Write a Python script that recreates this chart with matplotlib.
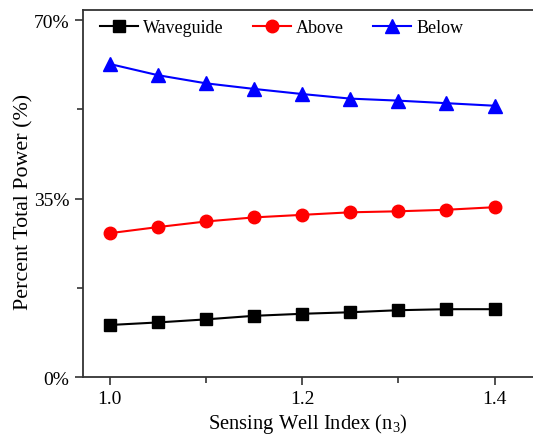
import matplotlib

matplotlib.use("Agg")
import matplotlib.pyplot as plt
from matplotlib.ticker import MultipleLocator, FuncFormatter

# sensing well index n3
index = [1.0, 1.05, 1.1, 1.15, 1.2, 1.25, 1.3, 1.35, 1.4]
# percent of total power in each region
waveguide = [10.2, 10.7, 11.3, 12.0, 12.4, 12.7, 13.1, 13.3, 13.3]
above = [28.2, 29.4, 30.5, 31.3, 31.8, 32.3, 32.5, 32.8, 33.3]
below = [61.4, 59.2, 57.6, 56.5, 55.5, 54.6, 54.2, 53.7, 53.2]

plt.rcParams["font.family"] = ["Liberation Serif", "DejaVu Serif"]
plt.rcParams["mathtext.fontset"] = "custom"
plt.rcParams["mathtext.rm"] = "Liberation Serif"

fig = plt.figure(figsize=(5.33, 4.35), dpi=100)
ax = fig.add_axes([0.155, 0.131, 0.845, 0.844])

ax.plot(index, waveguide, color="black", marker="s", markersize=8, linewidth=1.5, label="Waveguide")
ax.plot(index, above, color="red", marker="o", markersize=9, linewidth=1.5, label="Above")
ax.plot(index, below, color="blue", marker="^", markersize=10, linewidth=1.5, label="Below")

ax.set_xlim(0.972, 1.44)
ax.set_ylim(0, 72)
ax.xaxis.set_major_locator(MultipleLocator(0.2))
ax.xaxis.set_minor_locator(MultipleLocator(0.1))
ax.yaxis.set_major_locator(MultipleLocator(35))
ax.yaxis.set_minor_locator(MultipleLocator(17.5))
ax.xaxis.set_major_formatter(FuncFormatter(lambda v, p: f"{v:.1f}"))
ax.yaxis.set_major_formatter(FuncFormatter(lambda v, p: f"{v:.0f}%"))
ax.tick_params(which="both", direction="out", labelsize=14, width=1.2, color="#333333")
ax.tick_params(which="major", length=6)
ax.tick_params(which="minor", length=4)
ax.spines["right"].set_visible(False)
for side in ("left", "top", "bottom"):
    ax.spines[side].set_linewidth(1.3)
    ax.spines[side].set_color("#333333")

ax.set_xlabel(r"Sensing Well Index (n$_\mathrm{3}$)", fontsize=14.8, labelpad=3)
ax.set_ylabel("Percent Total Power (%)", fontsize=15.8, labelpad=3)
ax.yaxis.set_label_coords(-0.108, 0.48)

ax.legend(loc="upper left", ncol=3, frameon=False, fontsize=13, handlelength=2.1,
          handletextpad=0.3, columnspacing=1.6, bbox_to_anchor=(0.01, 1.01), borderaxespad=0.3)

fig.savefig("out.png", dpi=100)
